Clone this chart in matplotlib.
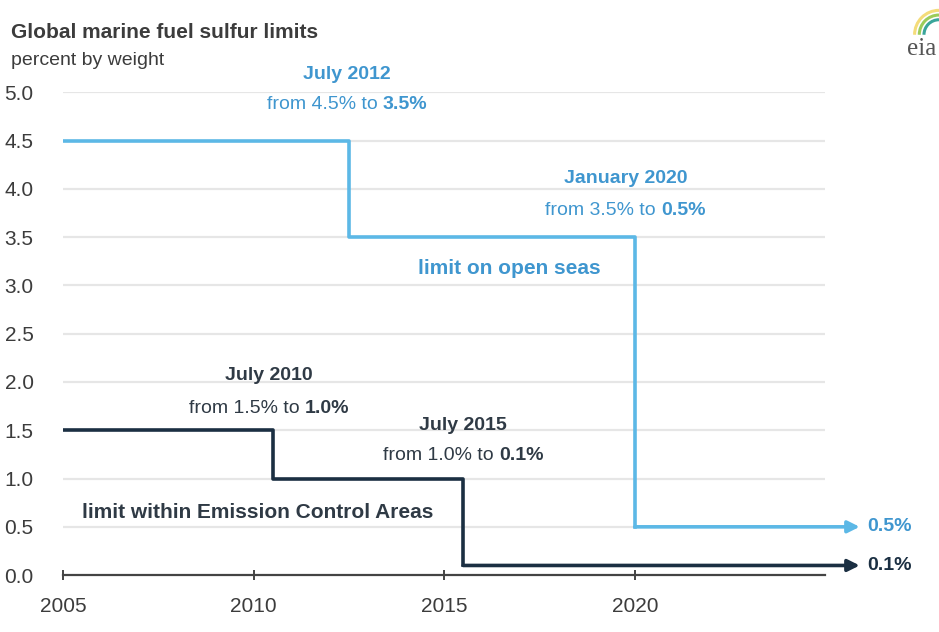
import matplotlib
matplotlib.use("Agg")
import matplotlib.pyplot as plt
from matplotlib.patches import Arc

plt.rcParams['font.family'] = ['Liberation Sans', 'DejaVu Sans']

# step data (year, percent by weight)
open_years = [2005, 2012.5, 2020.0, 2025.9]
open_vals = [4.5, 3.5, 0.5, 0.5]
eca_years = [2005, 2010.5, 2015.5, 2025.9]
eca_vals = [1.5, 1.0, 0.1, 0.1]

xticks = [2005, 2010, 2015, 2020]
yticks = [0.0, 0.5, 1.0, 1.5, 2.0, 2.5, 3.0, 3.5, 4.0, 4.5, 5.0]

BLUE = '#5cb8e6'
BLUE_TXT = '#3f96cf'
NAVY = '#1b2f42'
DARK_TXT = '#2f3a45'
GRAY = '#3c3c3c'

fig = plt.figure(figsize=(9.39, 6.32), dpi=100)
ax = fig.add_axes([0.067, 0.09, 0.812, 0.764])

ax.set_xlim(2005, 2025)
ax.set_ylim(0, 5.0)

for y in yticks[1:]:
    ax.axhline(y, color='#e6e6e6', lw=1.6, zorder=0)

ax.step(open_years[:-1], open_vals[:-1], where='post', color=BLUE, lw=2.6, zorder=3)
ax.annotate('', xy=(open_years[-1], open_vals[-1]), xytext=(open_years[-2], open_vals[-2]),
            arrowprops=dict(arrowstyle='-|>,head_length=0.7,head_width=0.35', color=BLUE, lw=2.6,
                            shrinkA=0, shrinkB=0), annotation_clip=False, zorder=3)
ax.step(eca_years[:-1], eca_vals[:-1], where='post', color=NAVY, lw=2.6, zorder=3)
ax.annotate('', xy=(eca_years[-1], eca_vals[-1]), xytext=(eca_years[-2], eca_vals[-2]),
            arrowprops=dict(arrowstyle='-|>,head_length=0.7,head_width=0.35', color=NAVY, lw=2.6,
                            shrinkA=0, shrinkB=0), annotation_clip=False, zorder=3)

for s in ['top', 'right', 'left']:
    ax.spines[s].set_visible(False)
ax.spines['bottom'].set_color('#444444')
ax.spines['bottom'].set_linewidth(1.6)

ax.set_xticks(xticks)
ax.set_xticklabels([str(x) for x in xticks])
ax.set_yticks(yticks)
ax.set_yticklabels(['%.1f' % y for y in yticks])
ax.tick_params(axis='y', length=0, pad=21, labelsize=15, labelcolor=GRAY)
ax.tick_params(axis='x', length=7, width=1.4, color='#444444', direction='inout',
               pad=12, labelsize=15, labelcolor=GRAY)

renderer = fig.canvas.get_renderer()


def mixed(x, y, normal, bold, color, size=14):
    # one centred line: normal part followed by a bold part
    t1 = ax.text(x, y, normal, color=color, fontsize=size, ha='left', va='center')
    t2 = ax.text(x, y, bold, color=color, fontsize=size, fontweight='bold', ha='left', va='center')
    w1 = t1.get_window_extent(renderer).width
    w2 = t2.get_window_extent(renderer).width
    x0, y0 = ax.transData.transform((x, y))
    inv = ax.transData.inverted()
    left = inv.transform((x0 - (w1 + w2) / 2, y0))[0]
    mid = inv.transform((x0 - (w1 + w2) / 2 + w1, y0))[0]
    t1.set_x(left)
    t2.set_x(mid)


# annotations
ax.text(2012.45, 5.18, 'July 2012', color=BLUE_TXT, fontsize=14, fontweight='bold', ha='center', va='center')
mixed(2012.45, 4.87, 'from 4.5% to ', '3.5%', BLUE_TXT)
ax.text(2019.76, 4.11, 'January 2020', color=BLUE_TXT, fontsize=14, fontweight='bold', ha='center', va='center')
mixed(2019.76, 3.78, 'from 3.5% to ', '0.5%', BLUE_TXT)
ax.text(2016.7, 3.18, 'limit on open seas', color=BLUE_TXT, fontsize=15, fontweight='bold', ha='center', va='center')

ax.text(2010.4, 2.07, 'July 2010', color=DARK_TXT, fontsize=14, fontweight='bold', ha='center', va='center')
mixed(2010.4, 1.73, 'from 1.5% to ', '1.0%', DARK_TXT)
ax.text(2015.5, 1.55, 'July 2015', color=DARK_TXT, fontsize=14, fontweight='bold', ha='center', va='center')
mixed(2015.5, 1.24, 'from 1.0% to ', '0.1%', DARK_TXT)
ax.text(2005.5, 0.65, 'limit within Emission Control Areas', color=DARK_TXT, fontsize=15, fontweight='bold',
        ha='left', va='center')

ax.text(2026.1, open_vals[-1], '0.5%', color=BLUE_TXT, fontsize=14, fontweight='bold', ha='left', va='center',
        clip_on=False)
ax.text(2026.1, eca_vals[-1], '0.1%', color=NAVY, fontsize=14, fontweight='bold', ha='left', va='center',
        clip_on=False)

fig.text(0.012, 0.948, 'Global marine fuel sulfur limits', color=GRAY, fontsize=15, fontweight='bold',
         ha='left', va='center')
fig.text(0.012, 0.904, 'percent by weight', color=GRAY, fontsize=14, ha='left', va='center')

# small eia mark
fig.text(0.982, 0.922, 'eia', color='#555555', fontsize=18, family='Liberation Serif', ha='center', va='center')
for r, c in [(0.026, '#f4dc7a'), (0.021, '#9ccc5a'), (0.016, '#3aa59a')]:
    fig.add_artist(Arc((1.0, 0.945), r * 2, r * 2 * 939 / 632, theta1=90, theta2=180,
                       transform=fig.transFigure, color=c, lw=2.2))

fig.savefig('out.png', dpi=100, facecolor='white')
